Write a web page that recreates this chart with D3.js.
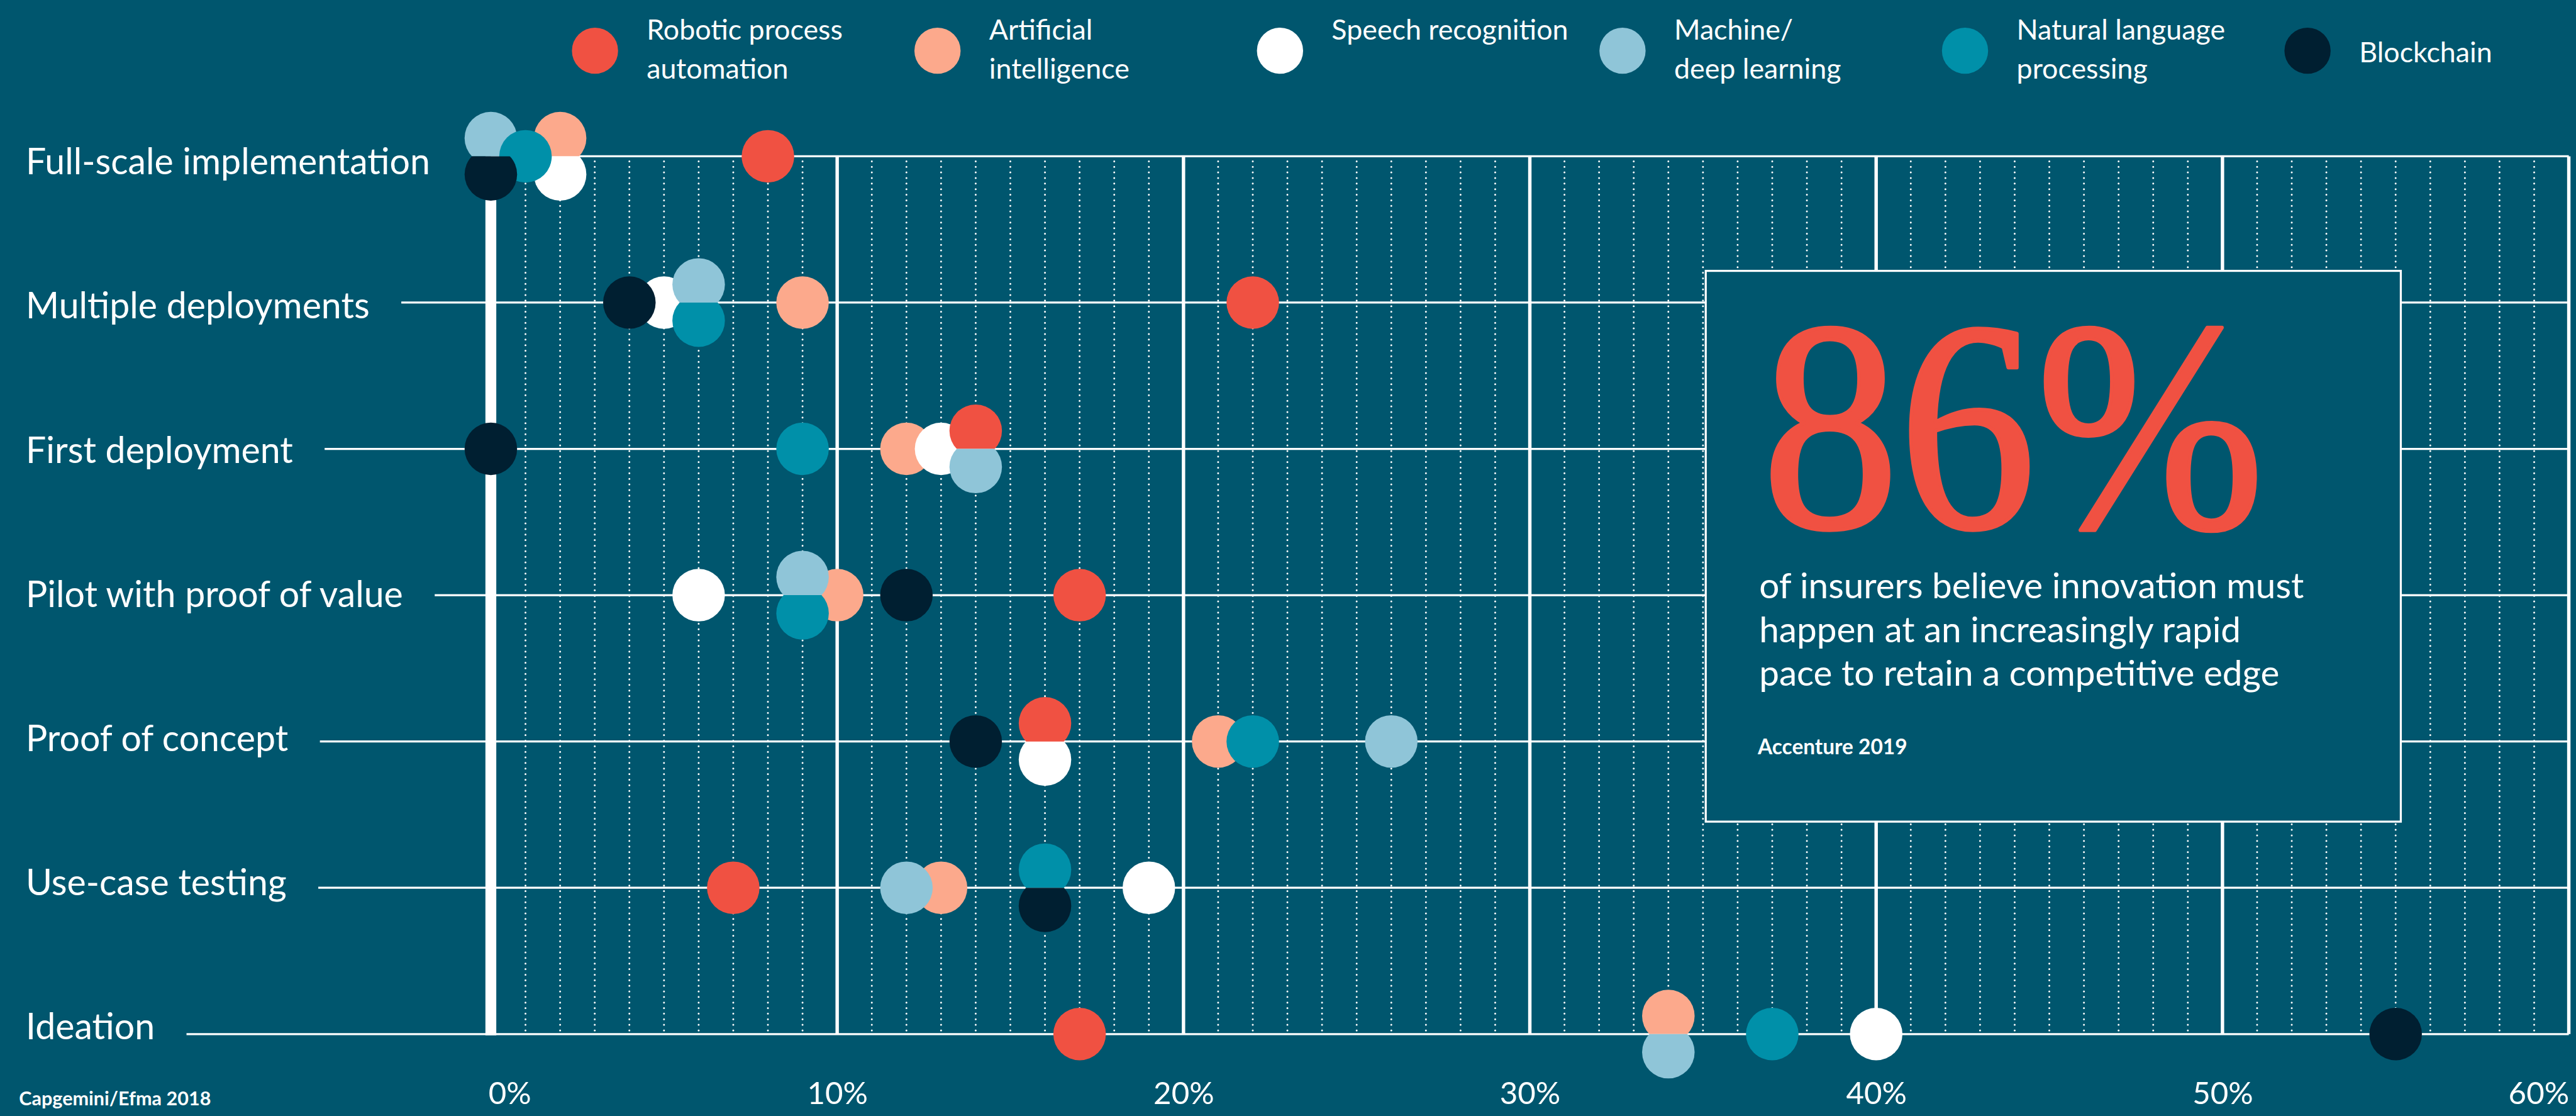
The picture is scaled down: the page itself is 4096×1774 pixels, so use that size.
<!DOCTYPE html>
<html>
<head>
<meta charset="utf-8">
<script src="https://cdn.jsdelivr.net/npm/d3@7"></script>
<style>
html, body { margin: 0; padding: 0; background: #00566e; overflow: hidden; }
svg { display: block; }
text { font-family: Lato, "Open Sans", sans-serif; fill: #fff; }
</style>
</head>
<body>
<svg id="chart"></svg>
<script>
var stages = ["Full-scale implementation", "Multiple deployments", "First deployment",
	"Pilot with proof of value", "Proof of concept", "Use-case testing", "Ideation"];
var techs = ["Robotic process automation", "Artificial intelligence", "Speech recognition",
	"Machine/deep learning", "Natural language processing", "Blockchain"];
var legendLines = [["Robotic process", "automation"], ["Artificial", "intelligence"], ["Speech recognition", ""],
	["Machine/", "deep learning"], ["Natural language", "processing"], ["Blockchain"]];
var techColors = ["#f05142", "#fca98c", "#ffffff", "#8fc5d8", "#0090a9", "#001f31"];

// % of insurers at each stage, in stage order
var robotic = [8, 22, 14, 17, 16, 7, 17];
var ai = [2, 9, 12, 10, 21, 13, 34];
var speech = [2, 5, 13, 6, 16, 19, 40];
var ml = [0, 6, 14, 9, 26, 12, 34];
var nlp = [1, 6, 9, 9, 22, 16, 37];
var blockchain = [0, 4, 0, 12, 14, 16, 55];
var xTicks = [0, 10, 20, 30, 40, 50, 60];

var statValue = "86%";
var statText = ["of insurers believe innovation must", "happen at an increasingly rapid", "pace to retain a competitive edge"];
var statSource = "Accenture 2019";
var source = "Capgemini/Efma 2018";

var seriesValues = [robotic, ai, speech, ml, nlp, blockchain];
// which series sits on top when dots overlap (last drawn = on top)
var drawOrder = [1, 2, 0, 3, 4, 5];

var k = 0.72, W = 4096, H = 1774;
var bg = "#00566e";

var svg = d3.select("#chart").attr("width", W).attr("height", H);
svg.append("rect").attr("width", W).attr("height", H).attr("fill", bg);

// font size that gives a string the wanted width
function fitSize(str, weight, family, target) {
	var t = svg.append("text").attr("font-size", 100).attr("font-weight", weight)
		.style("font-family", family).text(str);
	var w = t.node().getComputedTextLength();
	t.remove();
	return 100 * target / w;
}

var x = d3.scaleLinear().domain([0, 60]).range([1084 * k, 5673 * k]);
var y = d3.scalePoint().domain(stages).range([345 * k, 2283 * k]);
var yLabel = d3.scalePoint().domain(stages).range([385 * k, 2295 * k]);
var r = 58 * k, off = 40 * k;
var yTop = y(stages[0]), yBottom = y(stages[stages.length - 1]);

// grid
var grid = svg.append("g").attr("class", "grid");
grid.selectAll("line.minor").data(d3.range(1, 60).filter(function(d) { return d % 10; }))
	.join("line").attr("class", "minor")
	.attr("x1", x).attr("x2", x).attr("y1", yTop + 8).attr("y2", yBottom)
	.attr("stroke", "#fff").attr("stroke-width", 3)
	.attr("stroke-linecap", "round").attr("stroke-dasharray", "0 " + (12.3 * k));

grid.selectAll("line.major").data(xTicks.slice(1))
	.join("line").attr("class", "major")
	.attr("x1", x).attr("x2", x).attr("y1", yTop).attr("y2", yBottom)
	.attr("stroke", "#fff").attr("stroke-width", 7.5 * k);

// row labels
var labelSize = fitSize(stages[0], 400, "Lato", 893 * k);
var labels = svg.append("g").attr("class", "labels");
labels.selectAll("text").data(stages).join("text")
	.attr("x", 57 * k).attr("y", yLabel)
	.attr("font-size", labelSize)
	.text(function(d) { return d; });

var labelEnds = {};
labels.selectAll("text").each(function(d) {
	labelEnds[d] = 57 * k + this.getComputedTextLength();
});

grid.selectAll("line.row").data(stages).join("line").attr("class", "row")
	.attr("x1", function(d, i) { return i == 0 ? x(0) : labelEnds[d] + 70 * k; })
	.attr("x2", x(60))
	.attr("y1", y).attr("y2", y)
	.attr("stroke", "#fff").attr("stroke-width", 4.5 * k);

grid.append("line")
	.attr("x1", x(0)).attr("x2", x(0)).attr("y1", yTop).attr("y2", yBottom + 2)
	.attr("stroke", "#fff").attr("stroke-width", 24 * k);

// quote box
var box = svg.append("g").attr("class", "box");
box.append("rect")
	.attr("x", 3767 * k).attr("y", 598 * k)
	.attr("width", (5302 - 3767) * k).attr("height", (1814 - 598) * k)
	.attr("fill", bg).attr("stroke", "#fff").attr("stroke-width", 4.5 * k);

box.append("text")
	.attr("x", 3891 * k).attr("y", 1164 * k)
	.style("font-family", "'Liberation Serif', 'DejaVu Serif', serif")
	.style("fill", "#f05142")
	.attr("stroke", "#f05142").attr("stroke-width", 6).attr("stroke-linejoin", "round")
	.attr("font-size", 448 * k / 0.676)
	.attr("textLength", 1110 * k).attr("lengthAdjust", "spacingAndGlyphs")
	.text(statValue);

var bodySize = fitSize(statText[0], 400, "Lato", 1203 * k);
box.selectAll("text.body").data(statText).join("text").attr("class", "body")
	.attr("x", 3885 * k)
	.attr("y", function(d, i) { return (1321 + i * 96.5) * k; })
	.attr("font-size", bodySize)
	.text(function(d) { return d; });

box.append("text")
	.attr("x", 3882 * k).attr("y", 1665 * k)
	.attr("font-weight", 700)
	.attr("font-size", fitSize(statSource, 700, "Lato", 330 * k))
	.text(statSource);

// dots: equal values in a row are split at the row line, earlier series above
var dots = [];
stages.forEach(function(stage, i) {
	var byValue = d3.group(techs.map(function(t, j) { return { tech: j, value: seriesValues[j][i] }; }),
		function(d) { return d.value; });
	byValue.forEach(function(list) {
		list.forEach(function(d, n) {
			dots.push({
				stage: stage, row: i, tech: d.tech, value: d.value,
				pos: list.length == 1 ? 0 : (n == 0 ? -1 : 1)
			});
		});
	});
});
dots.sort(function(a, b) {
	return drawOrder.indexOf(a.tech) - drawOrder.indexOf(b.tech);
});

var defs = svg.append("defs");
stages.forEach(function(stage, i) {
	defs.append("clipPath").attr("id", "below" + i)
		.append("rect").attr("x", 0).attr("y", y(stage))
		.attr("width", W).attr("height", 2 * r + off);
	defs.append("clipPath").attr("id", "above" + i)
		.append("rect").attr("x", 0).attr("y", y(stage) - 2 * r - off)
		.attr("width", W).attr("height", 2 * r + off);
});

svg.append("g").attr("class", "dots")
	.selectAll("circle").data(dots).join("circle")
	.attr("cx", function(d) { return x(d.value); })
	.attr("cy", function(d) { return y(d.stage) + d.pos * off; })
	.attr("r", r)
	.attr("fill", function(d) { return techColors[d.tech]; })
	.attr("clip-path", function(d) {
		if (d.pos == 0) return null;
		return "url(#" + (d.pos < 0 ? "above" : "below") + d.row + ")";
	});

// legend
var lx = d3.scalePoint().domain(techs).range([1314 * k, 5096 * k]);
var legendSize = fitSize(legendLines[0][0], 400, "Lato", 433 * k);
var legend = svg.append("g").attr("class", "legend")
	.selectAll("g").data(techs).join("g")
	.attr("transform", function(d) { return "translate(" + lx(d) + "," + (112 * k) + ")"; });

legend.append("circle").attr("r", 51 * k)
	.attr("fill", function(d, i) { return techColors[i]; });

legend.each(function(d, i) {
	var lines = legendLines[i];
	d3.select(this).selectAll("text").data(lines).join("text")
		.attr("x", 114 * k)
		.attr("y", function(t, n) { return lines.length == 1 ? 25 * k : (n == 0 ? -25 * k : 61 * k); })
		.attr("font-size", legendSize)
		.text(function(t) { return t; });
});

// x axis
var axis = svg.append("g").attr("class", "axis")
	.attr("transform", "translate(0," + (2437 * k) + ")")
	.call(d3.axisBottom(x).tickValues(xTicks).tickSize(0).tickPadding(0)
		.tickFormat(function(d) { return d + "%"; }));
axis.select(".domain").remove();
axis.selectAll("text")
	.attr("y", 0).attr("dy", 0)
	.style("font-family", "Lato, sans-serif")
	.style("fill", "#fff")
	.attr("font-size", fitSize("10%", 400, "Lato", 134 * k))
	.attr("text-anchor", function(d, i) { return i == 0 ? "start" : (i == xTicks.length - 1 ? "end" : "middle"); })
	.attr("dx", function(d, i) { return i == 0 ? -6 * k : 0; });

svg.append("text")
	.attr("x", 42 * k).attr("y", 2440 * k)
	.attr("font-weight", 700)
	.attr("font-size", fitSize(source, 700, "Lato", 424 * k))
	.text(source);
</script>
</body>
</html>
